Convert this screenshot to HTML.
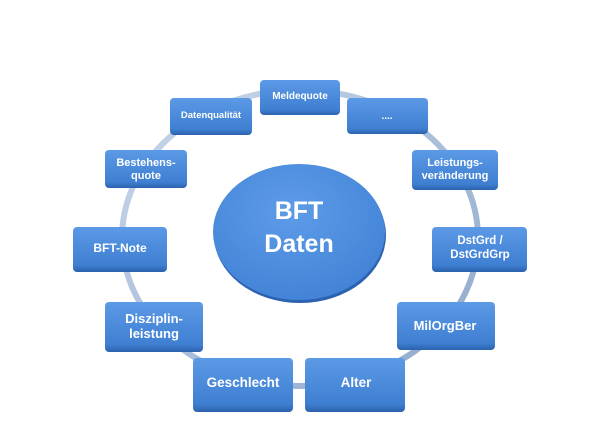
<!DOCTYPE html>
<html><head><meta charset="utf-8"><style>
html,body{margin:0;padding:0;background:#fff;width:600px;height:447px;overflow:hidden}
</style></head><body>
<svg width="600" height="447" viewBox="0 0 600 447" xmlns="http://www.w3.org/2000/svg" font-family="Liberation Sans, DejaVu Sans, sans-serif" font-weight="bold" fill="#fff">
<defs>
<linearGradient id="b" x1="0" y1="0" x2="0" y2="1">
<stop offset="0" stop-color="#5c9ae6"/><stop offset="0.85" stop-color="#3f7fd2"/><stop offset="1" stop-color="#2b62ad"/></linearGradient>
<radialGradient id="c" cx="0.45" cy="0.35" r="0.7">
<stop offset="0" stop-color="#5e9ce8"/><stop offset="1" stop-color="#4182d6"/></radialGradient>
<linearGradient id="r" x1="0" y1="0" x2="1" y2="1">
<stop offset="0" stop-color="#c9d7ea"/><stop offset="1" stop-color="#8fa9cc"/></linearGradient>
</defs>
<ellipse cx="300" cy="238" rx="178" ry="148" fill="none" stroke="url(#r)" stroke-width="6"/>
<ellipse cx="300" cy="235" rx="86" ry="68" fill="#2c62b0"/>
<ellipse cx="299" cy="232" rx="86" ry="68" fill="url(#c)"/>
<text x="299" y="219" font-size="25" text-anchor="middle">BFT</text>
<text x="299" y="252" font-size="25" text-anchor="middle">Daten</text>
<g>
<rect x="260" y="80" width="80" height="35" rx="4" fill="url(#b)"/>
<rect x="170" y="98" width="82" height="37" rx="4" fill="url(#b)"/>
<rect x="347" y="98" width="81" height="36" rx="4" fill="url(#b)"/>
<rect x="105" y="150" width="82" height="38" rx="4" fill="url(#b)"/>
<rect x="412" y="150" width="86" height="40" rx="4" fill="url(#b)"/>
<rect x="73" y="227" width="94" height="45" rx="4" fill="url(#b)"/>
<rect x="432" y="227" width="95" height="45" rx="4" fill="url(#b)"/>
<rect x="105" y="302" width="98" height="50" rx="4" fill="url(#b)"/>
<rect x="397" y="302" width="98" height="48" rx="4" fill="url(#b)"/>
<rect x="193" y="358" width="100" height="54" rx="4" fill="url(#b)"/>
<rect x="305" y="358" width="100" height="54" rx="4" fill="url(#b)"/>
</g>
<g text-anchor="middle">
<text x="300" y="99" font-size="10">Meldequote</text>
<text x="211" y="118" font-size="9.5">Datenqualität</text>
<text x="387" y="119" font-size="10">....</text>
<text x="146" y="166" font-size="11">Bestehens-</text>
<text x="146" y="179" font-size="11">quote</text>
<text x="455" y="166" font-size="11">Leistungs-</text>
<text x="455" y="179" font-size="11">veränderung</text>
<text x="120" y="252" font-size="12">BFT-Note</text>
<text x="480" y="244" font-size="11.5">DstGrd /</text>
<text x="480" y="258" font-size="11.5">DstGrdGrp</text>
<text x="154" y="323" font-size="13">Disziplin-</text>
<text x="154" y="338" font-size="13">leistung</text>
<text x="445" y="330" font-size="13">MilOrgBer</text>
<text x="243" y="387" font-size="13.5">Geschlecht</text>
<text x="356" y="387" font-size="13.5">Alter</text>
</g>
</svg>
</body></html>
